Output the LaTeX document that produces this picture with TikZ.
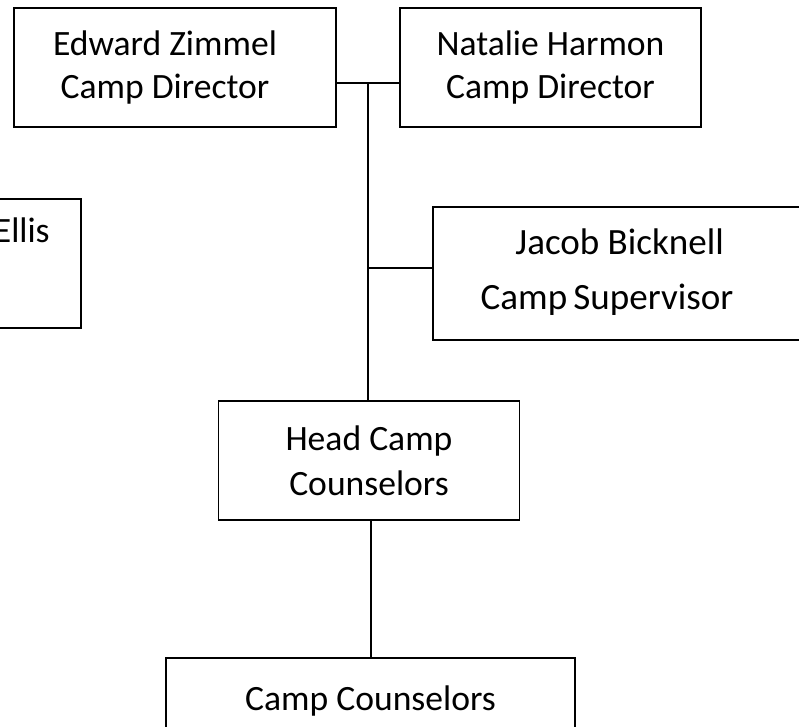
\documentclass[tikz,border=0pt]{standalone}
\usepackage{fontspec}
\setmainfont{Carlito}
\newcommand{\boxfont}{\fontsize{26.7pt}{32.5pt}\selectfont}

\begin{document}
\begin{tikzpicture}[x=0.75pt,y=-0.75pt,
    person/.style={draw,line width=1.3pt,rectangle,align=center,inner sep=0pt,
      font=\boxfont,minimum width=225.75pt,minimum height=89.25pt},
    label/.style={align=center,inner sep=0pt,font=\boxfont},
    link/.style={line width=1pt}]
  \useasboundingbox (0,0) rectangle (799,727);

  % directors
  \node[person,minimum width=241.5pt] (edward) at (175,67.5) {};
  \node[label] (edwardtxt) at (165,67.5) {Edward Zimmel\\Camp Director};
  \node[person] (natalie) at (550.5,67.5) {Natalie Harmon\\Camp Director};

  % supervisor and the box cut off at the left
  \node[person,minimum width=297.75pt,minimum height=99.75pt] (jacob) at (631.5,273.5) {};
  \node[label,font=\fontsize{27.8pt}{41pt}\selectfont] (jacobtxt) at (607,272)
    {\hspace*{19pt}Jacob Bicknell\\Camp\,Supervisor};
  \node[person,minimum width=173.25pt,minimum height=96.75pt] (ellis) at (-34.5,263.5) {};
  \node[label,anchor=base east] (ellistxt) at (50,243) {Ellis};

  % counselors
  \node[person,font=\fontsize{26.7pt}{34pt}\selectfont] (head) at (369,460.5) {Head Camp\\Counselors};
  \node[person,minimum width=306.75pt,minimum height=65.25pt] (counsel) at (370.5,701.5) {Camp Counselors};

  % connectors
  \coordinate (dirjoin) at (368,83);
  \coordinate (supjoin) at (368,268);
  \draw[link] (dirjoin -| edward.east) -- (dirjoin -| natalie.west);
  \draw[link] (dirjoin) -- (dirjoin |- head.north);
  \draw[link] (supjoin) -- (supjoin -| jacob.west);
  \draw[link] (head.south) ++(2,0) -- (counsel.north -| 371,0);
\end{tikzpicture}
\end{document}
